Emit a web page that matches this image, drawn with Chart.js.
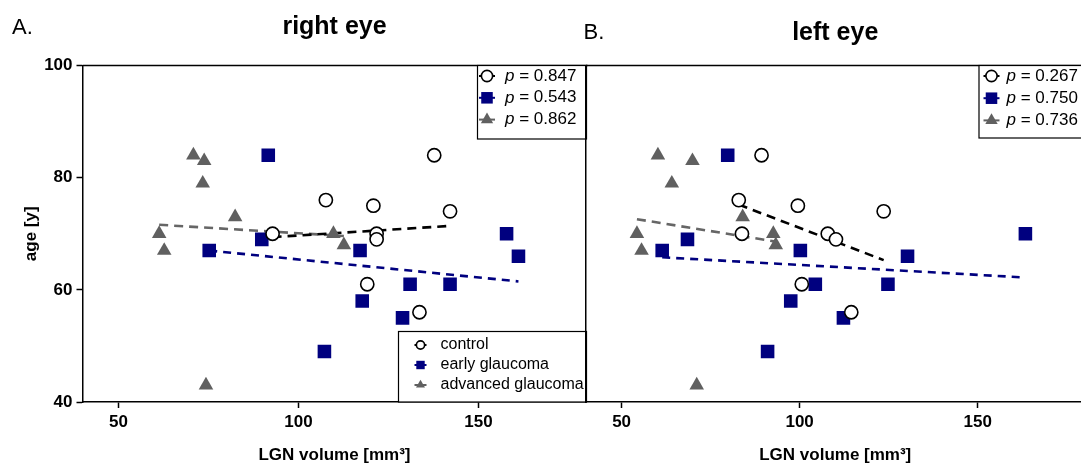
<!DOCTYPE html>
<html>
<head>
<meta charset="utf-8">
<style>
  html, body { margin: 0; padding: 0; background: #fff; overflow: hidden; width: 1081px; height: 468px; }
  .panel { position: absolute; top: 0; height: 468px; }
  #wrapA { left: 0; width: 600px; }
  #wrapB { left: 560px; width: 540px; }
  canvas { display: block; }
</style>
<script src="https://cdn.jsdelivr.net/npm/chart.js@4.4.0/dist/chart.umd.min.js"></script>
</head>
<body>
<div class="panel" id="wrapA"><canvas id="chartA" width="600" height="468"></canvas></div>
<div class="panel" id="wrapB"><canvas id="chartB" width="540" height="468"></canvas></div>
<script>
// axis ticks
const xTicks = [50, 100, 150];
const yTicks = [40, 60, 80, 100];
const groupNames = ['control', 'early glaucoma', 'advanced glaucoma'];

// A. right eye
const rightControlVol = [107.6, 92.8, 137.7, 120.8, 142.1, 121.7, 121.7, 119.1, 133.6];
const rightControlAge = [76, 70, 84, 75, 74, 70, 69, 61, 56];
const rightEarlyVol = [91.6, 89.8, 75.2, 107.2, 117.1, 117.7, 131.0, 142.1, 128.9, 157.8, 161.1];
const rightEarlyAge = [84, 69, 67, 49, 67, 58, 61, 61, 55, 70, 66];
const rightAdvVol = [61.3, 62.7, 70.8, 73.8, 73.4, 74.3, 82.4, 109.7, 112.6];
const rightAdvAge = [70, 67, 84, 83, 79, 43, 73, 70, 68];
// fitted lines (end points)
const rightControlFitVol = [92.8, 142.1];
const rightControlFitAge = [69.4, 71.4];
const rightEarlyFitVol = [75.2, 161.1];
const rightEarlyFitAge = [67.0, 61.5];
const rightAdvFitVol = [61.3, 112.6];
const rightAdvFitAge = [71.6, 69.6];
const pRight = ['0.847', '0.543', '0.862'];

// B. left eye
const leftControlVol = [89.3, 82.9, 99.5, 83.8, 107.9, 110.2, 100.6, 123.6, 114.5];
const leftControlAge = [84, 76, 75, 70, 70, 69, 61, 74, 56];
const leftEarlyVol = [79.8, 68.5, 61.4, 100.2, 104.4, 97.5, 91.0, 112.3, 130.3, 124.8, 163.4];
const leftEarlyAge = [84, 69, 67, 67, 61, 58, 49, 55, 66, 61, 70];
const leftAdvVol = [60.2, 69.9, 64.1, 84.0, 54.3, 55.6, 92.6, 93.3, 71.1];
const leftAdvAge = [84, 83, 79, 73, 70, 67, 70, 68, 43];
const leftControlFitVol = [82.9, 123.6];
const leftControlFitAge = [75.2, 65.3];
const leftEarlyFitVol = [61.4, 163.4];
const leftEarlyFitAge = [65.8, 62.2];
const leftAdvFitVol = [54.3, 93.3];
const leftAdvFitAge = [72.6, 68.6];
const pLeft = ['0.267', '0.750', '0.736'];

const FONT = '"Liberation Sans", Arial, sans-serif';
const NAVY = '#00007f';
const GREY = '#606060';

const pts = (xs, ys) => xs.map((x, i) => ({ x: x, y: ys[i] }));

function buildDatasets(c, e, a, cf, ef, af) {
  return [
    { label: groupNames[0], data: pts(c[0], c[1]), pointStyle: 'circle', pointRadius: 6.6,
      pointBackgroundColor: '#fff', pointBorderColor: '#000', pointBorderWidth: 1.6, borderColor: '#000', order: 0 },
    { label: groupNames[1], data: pts(e[0], e[1]), pointStyle: 'rect', pointRadius: 9.6,
      pointBackgroundColor: NAVY, pointBorderColor: NAVY, pointBorderWidth: 0, borderColor: NAVY, order: 1 },
    { label: groupNames[2], data: pts(a[0], a[1]), pointStyle: 'triangle', pointRadius: 8.4,
      pointBackgroundColor: GREY, pointBorderColor: GREY, pointBorderWidth: 0, borderColor: GREY, order: 2 },
    { data: pts(cf[0], cf[1]), showLine: true, pointRadius: 0, borderColor: '#000', borderWidth: 2.6, borderDash: [9, 6], order: 3 },
    { data: pts(ef[0], ef[1]), showLine: true, pointRadius: 0, borderColor: NAVY, borderWidth: 2.6, borderDash: [8, 6], order: 3 },
    { data: pts(af[0], af[1]), showLine: true, pointRadius: 0, borderColor: '#666', borderWidth: 2.6, borderDash: [9, 6], order: 3 }
  ];
}

// top frame line of the plot box
const topFrame = {
  id: 'topFrame',
  afterDatasetsDraw(chart) {
    const { ctx, chartArea } = chart;
    ctx.save();
    ctx.strokeStyle = '#000';
    ctx.lineWidth = 1.5;
    ctx.beginPath();
    ctx.moveTo(chartArea.left, chartArea.top);
    ctx.lineTo(chartArea.right + 1, chartArea.top);
    ctx.stroke();
    ctx.restore();
  }
};

// panel letter (A. / B.)
const panelLetter = {
  id: 'panelLetter',
  afterDraw(chart, args, opts) {
    const ctx = chart.ctx;
    ctx.save();
    ctx.fillStyle = '#000';
    ctx.font = '22px ' + FONT;
    ctx.textBaseline = 'alphabetic';
    ctx.fillText(opts.text, opts.x, opts.y);
    ctx.restore();
  }
};

// boxed legends drawn inside the plot
const boxLegend = {
  id: 'boxLegend',
  afterDraw(chart, args, opts) {
    const { ctx, chartArea } = chart;
    (opts.boxes || []).forEach(b => {
      const top = b.top === 'area' ? chartArea.top : b.top;
      const bottom = b.bottom === 'area' ? chartArea.bottom : b.bottom;
      const right = chartArea.right;
      ctx.save();
      ctx.fillStyle = '#fff';
      ctx.fillRect(b.left, top, right - b.left, bottom - top);
      ctx.strokeStyle = '#000';
      ctx.lineWidth = 1.2;
      ctx.strokeRect(b.left, top, right - b.left, bottom - top);
      b.rows.forEach((txt, i) => {
        const ds = chart.data.datasets[i];
        const cy = top + b.first + i * b.gap;
        const mx = b.left + b.mx;
        ctx.strokeStyle = ds.borderColor;
        ctx.lineWidth = 2;
        ctx.beginPath();
        ctx.moveTo(mx - b.line, cy);
        ctx.lineTo(mx + b.line, cy);
        ctx.stroke();
        ctx.fillStyle = ds.pointBackgroundColor;
        ctx.strokeStyle = ds.pointBorderColor;
        ctx.lineWidth = ds.pointBorderWidth;
        Chart.helpers.drawPoint(ctx, {
          pointStyle: ds.pointStyle,
          radius: ds.pointRadius * b.scale,
          borderWidth: ds.pointBorderWidth,
          rotation: 0
        }, mx, cy);
        ctx.fillStyle = '#000';
        ctx.textBaseline = 'middle';
        let tx = b.left + b.tx;
        if (b.pValue) {
          ctx.font = 'italic ' + b.size + 'px ' + FONT;
          ctx.fillText('p', tx, cy);
          tx += ctx.measureText('p').width;
          ctx.font = b.size + 'px ' + FONT;
          ctx.fillText(' = ' + txt, tx, cy);
        } else {
          ctx.font = b.size + 'px ' + FONT;
          ctx.fillText(txt, tx, cy);
        }
      });
      ctx.restore();
    });
  }
};

function axisX() {
  return {
    type: 'linear', min: 40, max: 180,
    afterBuildTicks: a => { a.ticks = xTicks.map(v => ({ value: v })); },
    afterFit: s => { s.height = 66; },
    grid: { drawOnChartArea: false, drawTicks: true, tickLength: 6, tickWidth: 1.5, tickColor: '#000' },
    border: { color: '#000', width: 1.5 },
    ticks: { color: '#000', padding: 4, maxRotation: 0, font: { family: FONT, size: 17, weight: 'bold' } },
    title: { display: true, text: 'LGN volume [mm³]', color: '#000', padding: { top: 0, bottom: 2 },
      font: { family: FONT, size: 17, weight: 'bold' } }
  };
}

// A. right eye
new Chart(document.getElementById('chartA'), {
  type: 'scatter',
  data: {
    datasets: buildDatasets(
      [rightControlVol, rightControlAge], [rightEarlyVol, rightEarlyAge], [rightAdvVol, rightAdvAge],
      [rightControlFitVol, rightControlFitAge], [rightEarlyFitVol, rightEarlyFitAge], [rightAdvFitVol, rightAdvFitAge])
  },
  options: {
    responsive: false,
    animation: false,
    layout: { padding: { left: 0, right: 13.5, top: 0, bottom: 0 } },
    scales: {
      x: axisX(),
      y: {
        min: 40, max: 100,
        afterBuildTicks: a => { a.ticks = yTicks.map(v => ({ value: v })); },
        afterFit: s => { s.width = 82.5; },
        grid: { drawOnChartArea: false, drawTicks: true, tickLength: 6, tickWidth: 1.5, tickColor: '#000' },
        border: { color: '#000', width: 1.5 },
        ticks: { color: '#000', padding: 4, font: { family: FONT, size: 17, weight: 'bold' } },
        title: { display: true, text: 'age [y]', color: '#000', padding: { top: 21, bottom: 0 },
          font: { family: FONT, size: 17, weight: 'bold' } }
      }
    },
    plugins: {
      legend: { display: false },
      tooltip: { enabled: false },
      title: { display: true, text: 'right eye', fullSize: false, color: '#000',
        font: { family: FONT, size: 25, weight: 'bold' }, padding: { top: 12.5, bottom: 23 } },
      panelLetter: { text: 'A.', x: 12, y: 34 },
      boxLegend: {
        boxes: [
          { left: 477.5, top: 'area', bottom: 139, first: 10.5, gap: 21.8, mx: 9.5, tx: 27.5, line: 8, scale: 0.85, size: 17, pValue: true, rows: pRight },
          { left: 398.5, top: 331.5, bottom: 'area', first: 13.5, gap: 20, mx: 22, tx: 42, line: 6, scale: 0.62, size: 16, pValue: false, rows: groupNames }
        ]
      }
    }
  },
  plugins: [topFrame, panelLetter, boxLegend]
});

// B. left eye
new Chart(document.getElementById('chartB'), {
  type: 'scatter',
  data: {
    datasets: buildDatasets(
      [leftControlVol, leftControlAge], [leftEarlyVol, leftEarlyAge], [leftAdvVol, leftAdvAge],
      [leftControlFitVol, leftControlFitAge], [leftEarlyFitVol, leftEarlyFitAge], [leftAdvFitVol, leftAdvFitAge])
  },
  options: {
    responsive: false,
    animation: false,
    layout: { padding: { left: 0, right: 15.5, top: 0, bottom: 0 } },
    scales: {
      x: axisX(),
      y: {
        min: 40, max: 100,
        afterBuildTicks: a => { a.ticks = yTicks.map(v => ({ value: v })); },
        afterFit: s => { s.width = 26; },
        grid: { drawOnChartArea: false, drawTicks: false },
        border: { color: '#000', width: 1.5 },
        ticks: { display: false }
      }
    },
    plugins: {
      legend: { display: false },
      tooltip: { enabled: false },
      title: { display: true, text: 'left eye', fullSize: false, color: '#000',
        font: { family: FONT, size: 25, weight: 'bold' }, padding: { top: 18.5, bottom: 17 } },
      panelLetter: { text: 'B.', x: 23.5, y: 39 },
      boxLegend: {
        boxes: [
          { left: 419, top: 'area', bottom: 138, first: 10.5, gap: 22.2, mx: 12.5, tx: 27.5, line: 8, scale: 0.85, size: 17, pValue: true, rows: pLeft }
        ]
      }
    }
  },
  plugins: [topFrame, panelLetter, boxLegend]
});
</script>
</body>
</html>
